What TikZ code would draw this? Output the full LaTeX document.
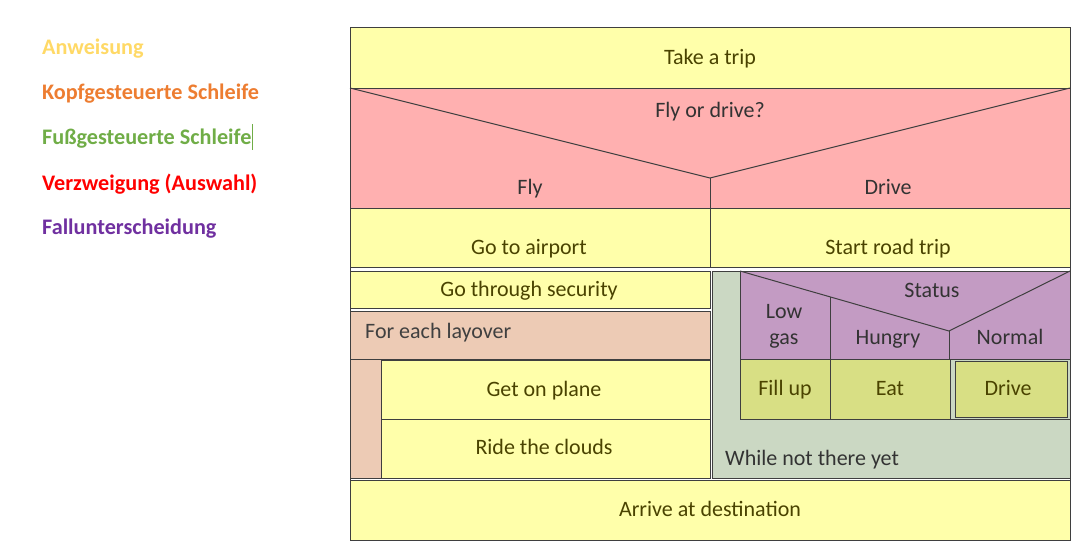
\documentclass[tikz,border=0pt]{standalone}
\usepackage{fontspec}
\setmainfont{Carlito}
\definecolor{instrFill}{HTML}{FFFFAA}
\definecolor{branchFill}{HTML}{FFB0B0}
\definecolor{headFill}{HTML}{EDCBB5}
\definecolor{footFill}{HTML}{CBD8C3}
\definecolor{caseFill}{HTML}{C39BC3}
\definecolor{actFill}{HTML}{D8DF84}
\definecolor{frameCol}{HTML}{3F3F3F}
\definecolor{instrText}{HTML}{4A4300}
\definecolor{legInstr}{HTML}{FFD966}
\definecolor{legHead}{HTML}{ED7D31}
\definecolor{legFoot}{HTML}{70AD47}
\definecolor{legBranch}{HTML}{FF0000}
\definecolor{legCase}{HTML}{7030A0}
\begin{document}
\begin{tikzpicture}[x=1pt,y=-1pt,font=\fontsize{22}{26}\selectfont,
  box/.style={draw=frameCol,line width=1pt},
  lbl/.style={inner sep=0pt,text height=17pt,text depth=4pt,text=instrText},
  legend/.style={inner sep=0pt,anchor=west,text height=18pt,text depth=2.4pt,font=\fontsize{22.2}{26}\selectfont\bfseries}]
\useasboundingbox (0,0) rectangle (1081,555);
\node[legend,text=legInstr](lInstr) at (42,47){Anweisung};
\node[legend,text=legHead](lHead) at (42,92){Kopfgesteuerte Schleife};
\node[legend,text=legFoot](lFoot) at (42,137){Fußgesteuerte Schleife};
\draw[legFoot,line width=0.8pt](lFoot.east)++(1,-13)--++(0,26);
\node[legend,text=legBranch](lBranch) at (42,183){Verzweigung (Auswahl)};
\node[legend,text=legCase](lCase) at (42,227){Fallunterscheidung};
\filldraw[box,fill=instrFill](350,27) rectangle (1070,88);
\node[lbl](trip) at (710,58){Take a trip};
\filldraw[box,fill=branchFill](350,88) rectangle (1070,208);
\draw[frameCol,line width=1pt](350,88)--(710,178)coordinate(flyTip)--(1070,88);
\draw[frameCol,line width=1pt](flyTip)--(710,208);
\node[lbl,text=black!80](ask) at (710,111){Fly or drive?};
\node[lbl,text=black!80](fly) at (530,188){Fly};
\node[lbl,text=black!80](drive) at (888,188){Drive};
\filldraw[box,fill=instrFill](350,208) rectangle (710,267);
\filldraw[box,fill=instrFill](710,208) rectangle (1070,267);
\node[lbl](airport) at (529,248){Go to airport};
\node[lbl](road) at (888,248){Start road trip};
\filldraw[box,fill=instrFill](350,271) rectangle (710,308);
\node[lbl](security) at (529,290){Go through security};
\filldraw[box,fill=headFill](350,311) rectangle (710,359);
\filldraw[box,fill=headFill](350,359) rectangle (381,478);
\node[lbl,anchor=west,text=black!75](layover) at (365,332){For each layover};
\filldraw[box,fill=instrFill](381,360) rectangle (710,419);
\filldraw[box,fill=instrFill](381,419) rectangle (710,478);
\node[lbl](plane) at (544,390){Get on plane};
\node[lbl](clouds) at (544,448){Ride the clouds};
\filldraw[box,fill=footFill](712,271) rectangle (1070,478);
\node[lbl,anchor=west,text=black!80](notThere) at (725,459){While not there yet};
\filldraw[box,fill=caseFill](740,271) rectangle (1070,359);
\draw[frameCol,line width=1pt](740,271)--(949,331)coordinate(caseTip)--(1070,271);
\draw[frameCol,line width=1pt](830,297)--(830,359);
\draw[frameCol,line width=1pt](caseTip)--(949,359);
\node[lbl,text=black!80](status) at (932,291){Status};
\node[lbl,text=black!80](lowA) at (784,312){Low};
\node[lbl,text=black!80](lowB) at (784,338){gas};
\node[lbl,text=black!80](hungry) at (888,338){Hungry};
\node[lbl,text=black!80](normal) at (1010,338){Normal};
\filldraw[box,fill=footFill](740,359) rectangle (1070,419);
\filldraw[box,fill=actFill](740,359) rectangle (830,419);
\filldraw[box,fill=actFill](830,359) rectangle (950,419);
\filldraw[box,fill=actFill](955,361) rectangle (1067,417);
\node[lbl](fill) at (785,389){Fill up};
\node[lbl](eat) at (890,389){Eat};
\node[lbl](go) at (1008,389){Drive};
\filldraw[box,fill=instrFill](350,480) rectangle (1070,540);
\node[lbl](arrive) at (710,510){Arrive at destination};
\draw[box](350,27) rectangle (1070,540);
\end{tikzpicture}
\end{document}
